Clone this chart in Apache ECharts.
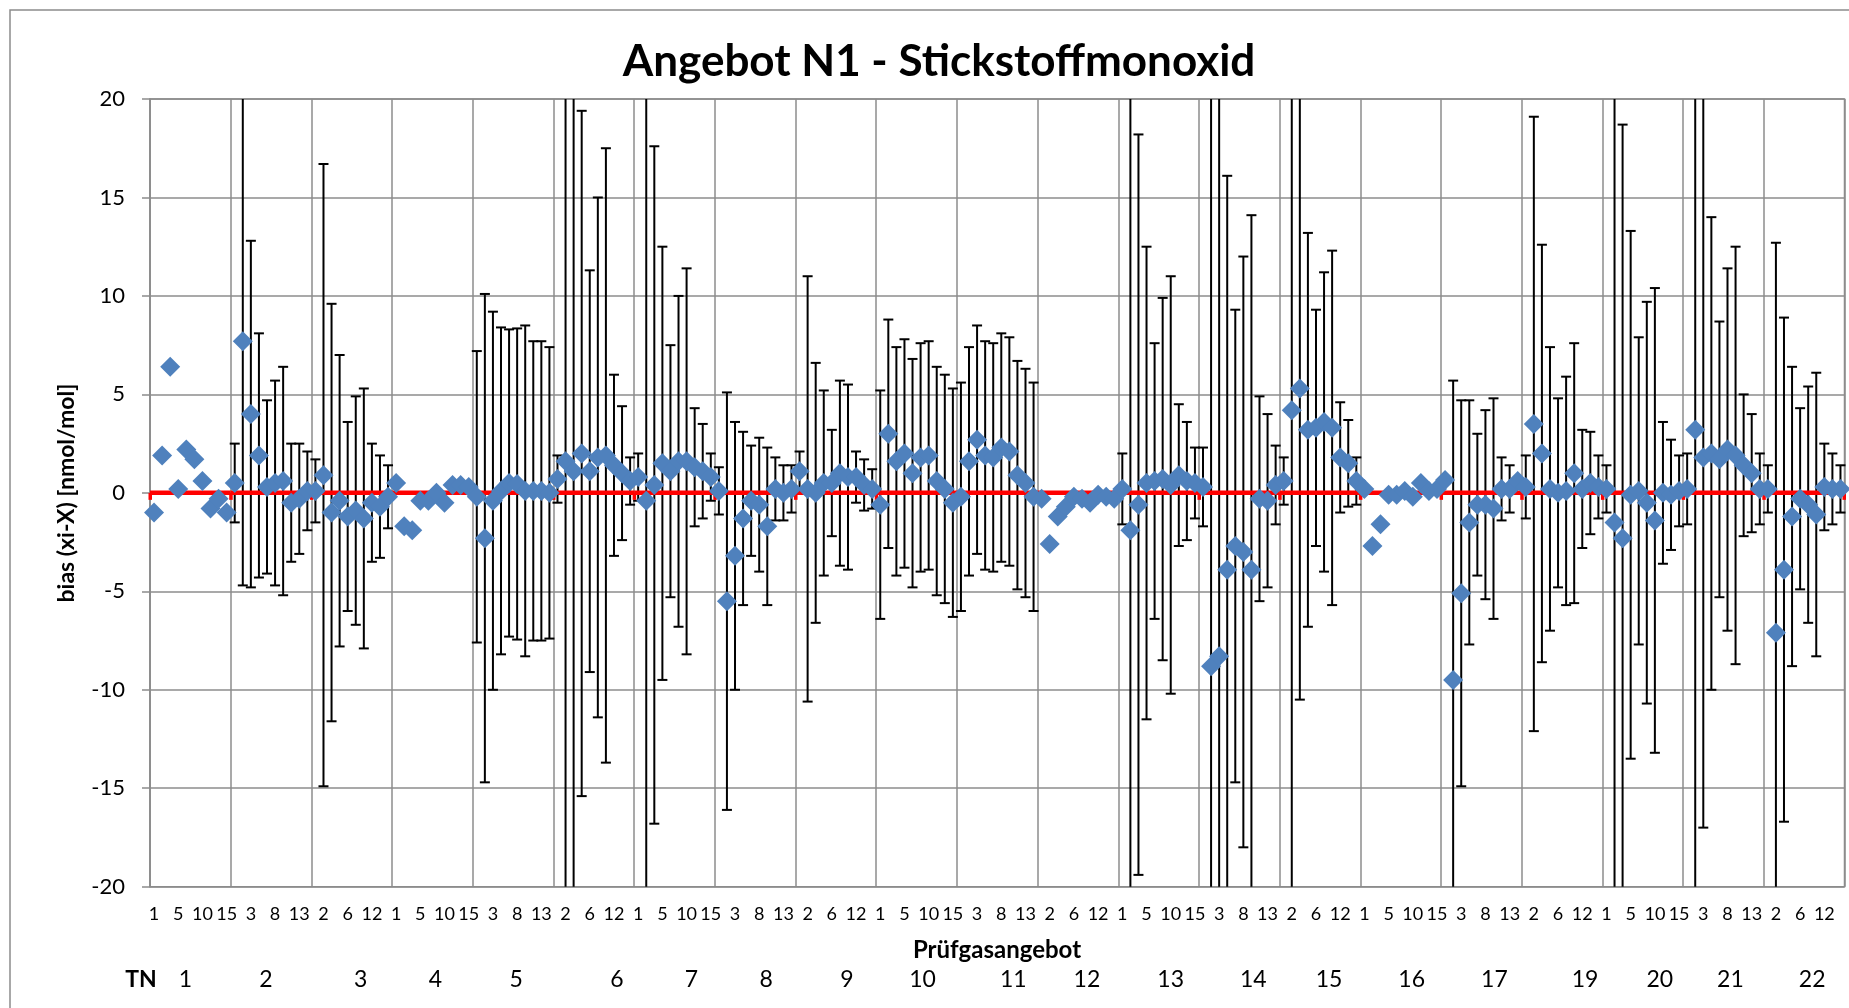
<!DOCTYPE html>
<html><head><meta charset="utf-8">
<script src="https://cdn.jsdelivr.net/npm/echarts@6/dist/echarts.min.js"></script>
<style>html,body{margin:0;padding:0;background:#fff}#c{width:1849px;height:1008px}</style>
</head><body><div id="c"></div>
<script>
// ---- axis / category definitions ----
const Y_MIN = -20, Y_MAX = 20, Y_STEP = 5;
const participants = ['1','2','3','4','5','6','7','8','9','10','11','12','13','14','15','16','17','19','20','21','22'];
const gasOffers = ['1','2','3','5','6','8','10','12','13','15'];
const referenceValue = [0,0,0,0,0,0,0,0,0,0,0,0,0,0,0,0,0,0,0,0,0];

// ---- bias values (xi-X) per participant, and expanded uncertainty (error bar half width) ----
const biasTN1  = [-1.0, 1.9, 6.4, 0.2, 2.2, 1.7, 0.6, -0.8, -0.3, -1.0];
const uncTN1   = [null, null, null, null, null, null, null, null, null, null];
const biasTN2  = [0.5, 7.7, 4.0, 1.9, 0.3, 0.5, 0.6, -0.5, -0.3, 0.1];
const uncTN2   = [2.0, 12.4, 8.8, 6.2, 4.4, 5.2, 5.8, 3.0, 2.8, 2.0];
const biasTN3  = [0.1, 0.9, -1.0, -0.4, -1.2, -0.9, -1.3, -0.5, -0.7, -0.2];
const uncTN3   = [1.6, 15.8, 10.6, 7.4, 4.8, 5.8, 6.6, 3.0, 2.6, 1.6];
const biasTN4  = [0.5, -1.7, -1.9, -0.4, -0.4, 0.0, -0.5, 0.4, 0.4, 0.3];
const uncTN4   = [null, null, null, null, null, null, null, null, null, null];
const biasTN5  = [-0.2, -2.3, -0.4, 0.1, 0.5, 0.45, 0.1, 0.1, 0.1, 0.0];
const uncTN5   = [7.4, 12.4, 9.6, 8.3, 7.8, 7.9, 8.4, 7.6, 7.6, 7.4];
const biasTN6  = [0.7, 1.6, 1.1, 2.0, 1.1, 1.8, 1.9, 1.4, 1.0, 0.6];
const uncTN6   = [1.2, 25, 24, 17.4, 10.2, 13.2, 15.6, 4.6, 3.4, 1.2];
const biasTN7  = [0.8, -0.4, 0.4, 1.5, 1.1, 1.6, 1.6, 1.3, 1.1, 0.8];
const uncTN7   = [1.2, 22, 17.2, 11.0, 6.4, 8.4, 9.8, 3.0, 2.4, 1.2];
const biasTN8  = [0.1, -5.5, -3.2, -1.3, -0.4, -0.6, -1.7, 0.2, 0.0, 0.2];
const uncTN8   = [1.2, 10.6, 6.8, 4.4, 2.8, 3.4, 4.0, 1.6, 1.4, 1.2];
const biasTN9  = [1.1, 0.2, 0.0, 0.5, 0.5, 1.0, 0.8, 0.8, 0.4, 0.2];
const uncTN9   = [1.0, 10.8, 6.6, 4.7, 2.7, 4.7, 4.7, 1.3, 1.3, 1.0];
const biasTN10 = [-0.6, 3.0, 1.6, 2.0, 1.0, 1.8, 1.9, 0.6, 0.2, -0.5];
const uncTN10  = [5.8, 5.8, 5.8, 5.8, 5.8, 5.8, 5.8, 5.8, 5.8, 5.8];
const biasTN11 = [-0.2, 1.6, 2.7, 1.9, 1.8, 2.3, 2.1, 0.9, 0.5, -0.2];
const uncTN11  = [5.8, 5.8, 5.8, 5.8, 5.8, 5.8, 5.8, 5.8, 5.8, 5.8];
const biasTN12 = [-0.3, -2.6, -1.2, -0.7, -0.2, -0.3, -0.5, -0.1, -0.2, -0.3];
const uncTN12  = [null, null, null, null, null, null, null, null, null, null];
const biasTN13 = [0.2, -1.9, -0.6, 0.5, 0.6, 0.7, 0.4, 0.9, 0.6, 0.5];
const uncTN13  = [1.8, 23, 18.8, 12.0, 7.0, 9.2, 10.6, 3.6, 3.0, 1.8];
const biasTN14 = [0.3, -8.8, -8.3, -3.9, -2.7, -3.0, -3.9, -0.3, -0.4, 0.4];
const uncTN14  = [2.0, 30, 30, 20.0, 12.0, 15.0, 18.0, 5.2, 4.4, 2.0];
const biasTN15 = [0.6, 4.2, 5.3, 3.2, 3.3, 3.6, 3.3, 1.8, 1.5, 0.6];
const uncTN15  = [1.2, 26, 15.8, 10.0, 6.0, 7.6, 9.0, 2.8, 2.2, 1.2];
const biasTN16 = [0.2, -2.7, -1.6, -0.1, -0.1, 0.1, -0.2, 0.5, 0.1, 0.2];
const uncTN16  = [null, null, null, null, null, null, null, null, null, null];
const biasTN17 = [0.65, -9.5, -5.1, -1.5, -0.6, -0.6, -0.8, 0.2, 0.2, 0.6];
const uncTN17  = [null, 15.2, 9.8, 6.2, 3.6, 4.8, 5.6, 1.6, 1.2, null];
const biasTN19 = [0.3, 3.5, 2.0, 0.2, 0.0, 0.1, 1.0, 0.2, 0.5, 0.3];
const uncTN19  = [1.6, 15.6, 10.6, 7.2, 4.8, 5.8, 6.6, 3.0, 2.6, 1.6];
const biasTN20 = [0.2, -1.5, -2.3, -0.1, 0.1, -0.5, -1.4, 0.0, -0.1, 0.1];
const uncTN20  = [1.2, 24, 21, 13.4, 7.8, 10.2, 11.8, 3.6, 2.8, 1.8];
const biasTN21 = [0.2, 3.2, 1.8, 2.0, 1.7, 2.2, 1.9, 1.4, 1.0, 0.2];
const uncTN21  = [1.8, 25, 18.8, 12.0, 7.0, 9.2, 10.6, 3.6, 3.0, 1.8];
const biasTN22 = [0.2, -7.1, -3.9, -1.2, -0.3, -0.6, -1.1, 0.3, 0.2, 0.2];
const uncTN22  = [1.2, 19.8, 12.8, 7.6, 4.6, 6.0, 7.2, 2.2, 1.8, 1.2];

// layout nudges (px) for the hand-placed TN labels of the original
const tnLabelShift = [-5, -5, 9, 3, 3, 23, 17, 11, 11, 6, 16, 9, 12, 14, 9, 11, 13, 23, 17, 7, 8];

const biasByTN = [biasTN1,biasTN2,biasTN3,biasTN4,biasTN5,biasTN6,biasTN7,biasTN8,biasTN9,biasTN10,biasTN11,
  biasTN12,biasTN13,biasTN14,biasTN15,biasTN16,biasTN17,biasTN19,biasTN20,biasTN21,biasTN22];
const uncByTN = [uncTN1,uncTN2,uncTN3,uncTN4,uncTN5,uncTN6,uncTN7,uncTN8,uncTN9,uncTN10,uncTN11,
  uncTN12,uncTN13,uncTN14,uncTN15,uncTN16,uncTN17,uncTN19,uncTN20,uncTN21,uncTN22];

const categories = [], points = [], bars = [], groups = [];
participants.forEach(function (tn, g) {
  groups.push([g * gasOffers.length, referenceValue[g], g]);
  gasOffers.forEach(function (p, i) {
    const k = categories.length;
    categories.push(tn + '|' + p);
    points.push([k, biasByTN[g][i]]);
    const u = uncByTN[g][i];
    if (u != null) bars.push([k, biasByTN[g][i], u]);
  });
});

const GRAY = '#8c8c8c';
const FONT = 'Lato, "Open Sans", sans-serif';

function renderErrorBar(params, api) {
  const k = api.value(0), v = api.value(1), u = api.value(2);
  const hi = v + u, lo = v - u;
  const top = api.coord([k, Math.min(hi, Y_MAX)]);
  const bot = api.coord([k, Math.max(lo, Y_MIN)]);
  const st = { stroke: '#000', lineWidth: 2 };
  const half = 5;
  const ch = [{ type: 'line', shape: { x1: top[0], y1: top[1], x2: bot[0], y2: bot[1] }, style: st }];
  if (hi <= Y_MAX) ch.push({ type: 'line', shape: { x1: top[0] - half, y1: top[1], x2: top[0] + half, y2: top[1] }, style: st });
  if (lo >= Y_MIN) ch.push({ type: 'line', shape: { x1: bot[0] - half, y1: bot[1], x2: bot[0] + half, y2: bot[1] }, style: st });
  return { type: 'group', children: ch };
}

function renderRefLine(params, api) {
  const s = api.value(0), r = api.value(1), g = api.value(2);
  const bw = api.size([1, 0])[0];
  const a = api.coord([s, r]), b = api.coord([s + gasOffers.length - 1, r]);
  const x0 = a[0] - bw / 2, x1 = b[0] + bw / 2, y = a[1];
  const red = '#ff0000';
  const ch = [
    { type: 'line', shape: { x1: x0, y1: y, x2: x1, y2: y }, style: { stroke: red, lineWidth: 4.5 } },
    { type: 'rect', shape: { x: x0 - 1.5, y: y, width: 3.5, height: 7 }, style: { fill: red } }
  ];
  if (g === participants.length - 1) ch.push({ type: 'rect', shape: { x: x1 - 2, y: y, width: 3.5, height: 7 }, style: { fill: red } });
  return { type: 'group', children: ch };
}

function renderTN(params, api) {
  const s = api.value(0), g = api.value(2);
  const a = api.coord([s, Y_MIN]), b = api.coord([s + gasOffers.length - 1, Y_MIN]);
  return {
    type: 'text', x: (a[0] + b[0]) / 2 + tnLabelShift[g], y: a[1] + 93,
    style: { text: participants[g], font: '23px ' + FONT, fill: '#000',
      align: 'center', verticalAlign: 'middle', textAlign: 'center', textVerticalAlign: 'middle' }
  };
}

const chart = echarts.init(document.getElementById('c'), null, { renderer: 'canvas' });
chart.setOption({
  animation: false,
  backgroundColor: '#fff',
  textStyle: { fontFamily: FONT },
  grid: { left: 150, right: 4.5, top: 99, bottom: 121.3, show: true, borderColor: GRAY, borderWidth: 1.5,
    outerBoundsMode: 'none', containLabel: false },
  xAxis: {
    type: 'category', data: categories, boundaryGap: true,
    axisLine: { show: false }, axisTick: { show: false },
    axisLabel: { interval: 2, margin: 18, color: '#000', fontSize: 18, fontFamily: FONT,
      formatter: function (v) { return v.split('|')[1]; } },
    splitLine: { show: true, interval: function (i) { return i % gasOffers.length === 0; },
      lineStyle: { color: GRAY, width: 1.5 } }
  },
  yAxis: {
    type: 'value', min: Y_MIN, max: Y_MAX, interval: Y_STEP,
    axisLine: { show: true, lineStyle: { color: GRAY, width: 1.5 } },
    axisTick: { show: true, inside: false, length: 8, lineStyle: { color: GRAY, width: 1.5 } },
    axisLabel: { margin: 25, color: '#000', fontSize: 22, fontFamily: FONT },
    splitLine: { show: true, lineStyle: { color: GRAY, width: 1.5 } }
  },
  graphic: [
    { type: 'rect', z: -1, silent: true, shape: { x: 10, y: 10, width: 1900, height: 1100 },
      style: { fill: 'none', stroke: GRAY, lineWidth: 1.5 } },
    { type: 'text', x: 939, y: 62, style: { text: 'Angebot N1 - Stickstoffmonoxid', font: 'bold 44px ' + FONT,
      fill: '#000', align: 'center', verticalAlign: 'middle', textAlign: 'center', textVerticalAlign: 'middle' } },
    { type: 'text', x: 67, y: 493, rotation: Math.PI / 2, style: { text: 'bias (xi-X) [nmol/mol]', font: 'bold 23px ' + FONT,
      fill: '#000', align: 'center', verticalAlign: 'middle', textAlign: 'center', textVerticalAlign: 'middle' } },
    { type: 'text', x: 997, y: 950, style: { text: 'Prüfgasangebot', font: 'bold 24px ' + FONT,
      fill: '#000', align: 'center', verticalAlign: 'middle', textAlign: 'center', textVerticalAlign: 'middle' } },
    { type: 'text', x: 141, y: 980, style: { text: 'TN', font: 'bold 23px ' + FONT,
      fill: '#000', align: 'center', verticalAlign: 'middle', textAlign: 'center', textVerticalAlign: 'middle' } }
  ],
  series: [
    { type: 'custom', name: 'Unsicherheit', z: 2, data: bars, encode: { x: 0, y: 1 }, renderItem: renderErrorBar, silent: true },
    { type: 'custom', name: 'Referenz', z: 3, data: groups, encode: { x: 0, y: 1 }, renderItem: renderRefLine, silent: true },
    { type: 'scatter', name: 'bias', z: 4, data: points, symbol: 'diamond', symbolSize: 20,
      itemStyle: { color: '#4F81BD', opacity: 1 } },
    { type: 'custom', name: 'TN', z: 5, data: groups, encode: { x: 0, y: 1 }, renderItem: renderTN, silent: true }
  ]
});
</script></body></html>
